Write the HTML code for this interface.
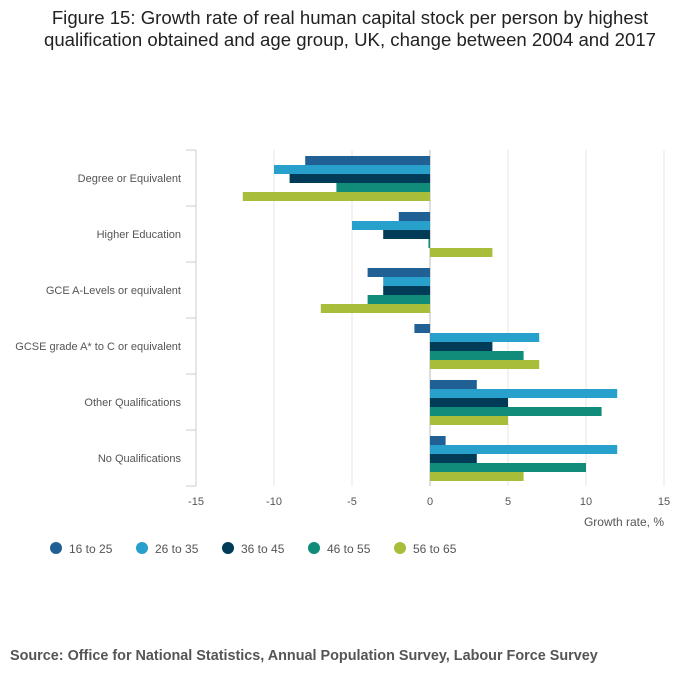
<!DOCTYPE html>
<html><head><meta charset="utf-8"><style>
body{margin:0;background:#fff;font-family:"Liberation Sans",sans-serif;}
</style></head><body>
<svg width="700" height="682" viewBox="0 0 700 682" xmlns="http://www.w3.org/2000/svg">
<text x="350" y="24" text-anchor="middle" font-size="18.6" fill="#222">Figure 15: Growth rate of real human capital stock per person by highest</text>
<text x="350" y="46" text-anchor="middle" font-size="18.6" fill="#222">qualification obtained and age group, UK, change between 2004 and 2017</text>
<g id="grid"></g><g id="bars"></g><g id="axes"></g>
<text x="664" y="526" text-anchor="end" font-size="12" fill="#555">Growth rate, %</text>
<g id="legend"></g>
<text x="10" y="660" font-size="14.4" font-weight="bold" fill="#555">Source: Office for National Statistics, Annual Population Survey, Labour Force Survey</text>
</svg>
<script>
const categories=["Degree or Equivalent","Higher Education","GCE A-Levels or equivalent","GCSE grade A* to C or equivalent","Other Qualifications","No Qualifications"];
const seriesNames=["16 to 25","26 to 35","36 to 45","46 to 55","56 to 65"];
const s16to25=[-8,-2,-4,-1,3,1];
const s26to35=[-10,-5,-3,7,12,12];
const s36to45=[-9,-3,-3,4,5,3];
const s46to55=[-6,-0.1,-4,6,11,10];
const s56to65=[-12,4,-7,7,5,6];
const xTicks=[-15,-10,-5,0,5,10,15];
const series=[s16to25,s26to35,s36to45,s46to55,s56to65];
const colors=["#206095","#27a0cc","#003c57","#118c7b","#a8bd3a"];
const NS="http://www.w3.org/2000/svg";
const x0=196,x1=664,y0=150,groupH=56;
const xs=v=>x0+(v+15)/30*(x1-x0);
function mk(t,a,p){const e=document.createElementNS(NS,t);for(const k in a)e.setAttribute(k,a[k]);p.appendChild(e);return e;}
const grid=document.getElementById('grid'),bars=document.getElementById('bars'),axes=document.getElementById('axes'),legend=document.getElementById('legend');
xTicks.forEach(t=>{
 if(t!==-15){const l=mk('line',{x1:xs(t),x2:xs(t),y1:y0,y2:y0+groupH*categories.length,stroke:t===0?'#bbb':'#e4e4e4','stroke-width':1},grid);
 
 }
 const tx=mk('text',{x:xs(t),y:505,'text-anchor':'middle','font-size':11,fill:'#555'},axes);tx.textContent=t;
 
 
});
const ax=mk('line',{x1:x0,x2:x0,y1:y0,y2:y0+groupH*categories.length,stroke:'#ccc'},axes);


for(let i=0;i<=categories.length;i++){const tk=mk('line',{x1:x0-10,x2:x0,y1:y0+i*groupH,y2:y0+i*groupH,stroke:'#ccc'},axes);
 
 }
categories.forEach((c,i)=>{
 const cy=y0+i*groupH+groupH/2;
 const tx=mk('text',{x:181,y:cy+4,'text-anchor':'end','font-size':11,fill:'#555'},axes);tx.textContent=c;
 
 
 series.forEach((s,j)=>{
  const v=s[i];const a=xs(0),b=xs(v);
  const r=mk('rect',{x:Math.min(a,b),y:cy-22+j*9,width:Math.max(Math.abs(b-a),0.8),height:9,fill:colors[j]},bars);
  
  
 });
});
const lx=[56,142,228,314,400];
seriesNames.forEach((n,j)=>{
 const g=mk('g',{},legend);
 
 
 mk('circle',{cx:lx[j],cy:548,r:6,fill:colors[j]},g);
 const t=mk('text',{x:lx[j]+13,y:553,'font-size':12,fill:'#555'},g);t.textContent=n;
});
</script>
</body></html>
